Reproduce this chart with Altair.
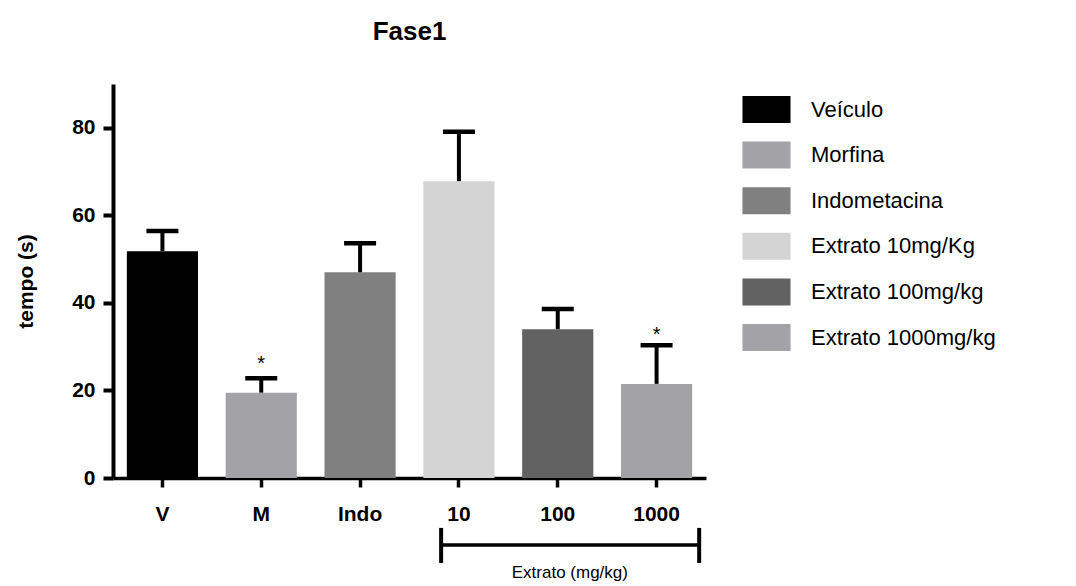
import altair as alt
import pandas as pd

# ---- data ----
cats = ["V", "M", "Indo", "10", "100", "1000"]
groups = ["Veículo", "Morfina", "Indometacina", "Extrato 10mg/Kg", "Extrato 100mg/kg", "Extrato 1000mg/kg"]
means = [51.8, 19.5, 47.0, 67.8, 34.0, 21.5]
uppers = [56.4, 22.8, 53.6, 79.1, 38.6, 30.3]
colors = ["#000000", "#a3a2a7", "#808080", "#d4d4d4", "#626262", "#a3a2a7"]

star_cats = ["M", "1000"]
star_y = [27.0, 33.6]

bracket_start = ["10"]
bracket_end = ["1000"]
bracket_y = [-15.3]
bracket_top = [-11.4]
bracket_bottom = [-19.4]
bracket_label = ["Extrato (mg/kg)"]
bracket_label_y = [-21.6]

FONT = "Liberation Sans"

df = pd.DataFrame({"cat": cats, "group": groups, "mean": means, "upper": uppers})
stars = pd.DataFrame({"cat": star_cats, "y": star_y, "t": ["*"] * len(star_cats)})
br = pd.DataFrame({"start": bracket_start, "end": bracket_end, "y": bracket_y,
                   "top": bracket_top, "bottom": bracket_bottom,
                   "label": bracket_label, "ly": bracket_label_y, "mid": ["100"]})

xscale = alt.Scale(domain=cats, paddingInner=0.28, paddingOuter=0.14)
yscale = alt.Scale(domain=[0, 90], nice=False)

base = alt.Chart(df)

bars = base.mark_bar().encode(
    x=alt.X("cat:N", scale=xscale, title=None,
            axis=alt.Axis(labelAngle=0, labelFontSize=21, labelFontWeight="bold",
                          labelFont=FONT, labelColor="black", tickSize=9, tickWidth=3.5,
                          tickColor="black", domainColor="black", domainWidth=3.5,
                          labelPadding=16)),
    y=alt.Y("mean:Q", scale=yscale, title="tempo (s)",
            axis=alt.Axis(values=[0, 20, 40, 60, 80], labelFontSize=21, labelFontWeight="bold",
                          labelFont=FONT, labelColor="black", tickSize=10, tickWidth=4,
                          tickColor="black", domainColor="black", domainWidth=4,
                          labelPadding=8, grid=False, titleFontSize=21, titleFont=FONT,
                          titleFontWeight="bold", titleColor="black", titleX=-87, titleY=197,
                          titleAlign="center", titleBaseline="middle", titleAngle=270)),
    color=alt.Color("group:N", scale=alt.Scale(domain=groups, range=colors), title=None,
                    legend=alt.Legend(orient="none", legendX=640, legendY=12, padding=0,
                                      symbolType="M-1.78,-1H1.78V1H-1.78Z", symbolSize=729,
                                      symbolStrokeWidth=0, symbolOpacity=1,
                                      labelFontSize=22, labelFont=FONT, labelColor="black",
                                      labelOffset=31, rowPadding=18.6, labelLimit=400)),
)

whisk = base.mark_rule(color="black", strokeWidth=4).encode(
    x=alt.X("cat:N", scale=xscale),
    y=alt.Y("mean:Q", scale=yscale),
    y2="upper:Q",
)
caps = base.mark_tick(color="black", size=32, thickness=4.5, opacity=1).encode(
    x=alt.X("cat:N", scale=xscale),
    y=alt.Y("upper:Q", scale=yscale),
)

star_layer = alt.Chart(stars).mark_text(fontSize=20, font=FONT, color="black",
                                         baseline="middle", dy=4).encode(
    x=alt.X("cat:N", scale=xscale),
    y=alt.Y("y:Q", scale=yscale),
    text="t:N",
)

bchart = alt.Chart(br)
br_h = bchart.mark_rule(color="black", strokeWidth=3.5, x2Offset=7).encode(
    x=alt.X("start:N", scale=xscale, bandPosition=0.25),
    x2=alt.X2("end:N", bandPosition=1),
    y=alt.Y("y:Q", scale=yscale),
)
br_l = bchart.mark_rule(color="black", strokeWidth=4).encode(
    x=alt.X("start:N", scale=xscale, bandPosition=0.25),
    y=alt.Y("top:Q", scale=yscale),
    y2="bottom:Q",
)
br_r = bchart.mark_rule(color="black", strokeWidth=4, xOffset=7).encode(
    x=alt.X("end:N", scale=xscale, bandPosition=1),
    y=alt.Y("top:Q", scale=yscale),
    y2="bottom:Q",
)
br_t = bchart.mark_text(fontSize=17, font=FONT, color="black", baseline="middle").encode(
    x=alt.X("mid:N", scale=xscale, bandPosition=0.67),
    y=alt.Y("ly:Q", scale=yscale),
    text="label:N",
)

chart = alt.layer(bars, whisk, caps, star_layer, br_h, br_l, br_r, br_t).properties(
    width=593, height=394,
    title=alt.TitleParams("Fase1", fontSize=26, font=FONT, fontWeight="bold", color="black",
                          anchor="middle", baseline="alphabetic", offset=18),
    padding={"left": 105, "top": 76, "right": 362, "bottom": 108},
    autosize=alt.AutoSizeParams(type="none"),
).configure_view(stroke=None)

chart.save("out.html", embed_options={"renderer": "svg", "actions": False})
